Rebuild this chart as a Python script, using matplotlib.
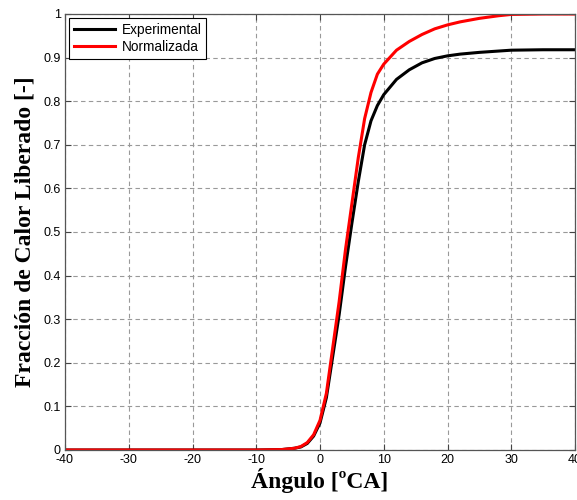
import matplotlib
matplotlib.use("Agg")
import matplotlib.pyplot as plt

plt.rcParams["axes.unicode_minus"] = False

# angle [ºCA] and heat release fractions
angulo = [-40, -10, -6, -4, -3, -2, -1, 0, 1, 2, 3, 4, 5, 6, 7, 8, 9, 10,
          12, 14, 16, 18, 20, 22, 25, 28, 30, 35, 40]
experimental = [0, 0, 0.001, 0.004, 0.007, 0.015, 0.032, 0.062, 0.12, 0.215,
                0.31, 0.42, 0.52, 0.615, 0.70, 0.755, 0.79, 0.815, 0.85, 0.872,
                0.888, 0.898, 0.904, 0.908, 0.912, 0.915, 0.917, 0.918, 0.918]
normalizada = [0, 0, 0.001, 0.004, 0.008, 0.017, 0.035, 0.068, 0.13, 0.235,
               0.34, 0.46, 0.565, 0.67, 0.76, 0.82, 0.862, 0.885, 0.917, 0.937,
               0.953, 0.966, 0.975, 0.982, 0.99, 0.996, 0.999, 1.0, 1.0]

xticks = list(range(-40, 41, 10))
yticks = [0, 0.1, 0.2, 0.3, 0.4, 0.5, 0.6, 0.7, 0.8, 0.9, 1]
ytick_labels = ["0", "0.1", "0.2", "0.3", "0.4", "0.5", "0.6", "0.7", "0.8", "0.9", "1"]

fig = plt.figure(figsize=(5.77, 5.0), dpi=100)
ax = fig.add_axes([65 / 577, 0.10, 510 / 577, 0.872])

ax.plot(angulo, experimental, color="black", lw=2.2, label="Experimental")
ax.plot(angulo, normalizada, color="red", lw=2.2, label="Normalizada")

ax.set_xlim(-40, 40)
ax.set_ylim(0, 1)
ax.set_xticks(xticks)
ax.set_yticks(yticks)
ax.set_yticklabels(ytick_labels)
ax.tick_params(direction="in", top=True, right=True, length=4,
               labelsize=9, colors="#444444", labelcolor="black", pad=3)
for lab in ax.get_xticklabels() + ax.get_yticklabels():
    lab.set_family("Liberation Sans")

ax.grid(True, linestyle=(0, (4, 3)), color="#999999", linewidth=0.8)
for s in ax.spines.values():
    s.set_color("#555555")
    s.set_linewidth(0.9)

ax.set_xlabel("Ángulo [ºCA]", family="Liberation Serif", fontweight="bold",
              fontsize=17, labelpad=1)
ax.set_ylabel("Fracción de Calor Liberado [-]", family="Liberation Serif",
              fontweight="bold", fontsize=17, labelpad=6)

leg = ax.legend(loc="upper left", fancybox=False, edgecolor="black",
                framealpha=1, prop={"family": "Liberation Sans", "size": 9.8},
                handlelength=3.0, borderpad=0.35, labelspacing=0.25,
                borderaxespad=0.3, handletextpad=0.5)
leg.get_frame().set_linewidth(0.8)

fig.savefig("out.png", dpi=100)
